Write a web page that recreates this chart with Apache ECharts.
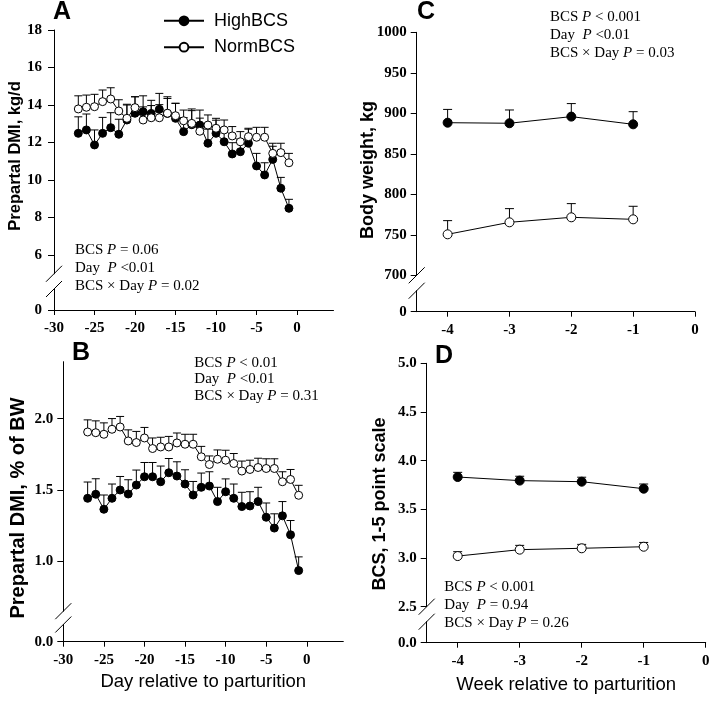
<!DOCTYPE html>
<html><head><meta charset="utf-8">
<script src="https://cdn.jsdelivr.net/npm/echarts@6/dist/echarts.min.js"></script>
<style>html,body{margin:0;padding:0;background:#fff}#c{width:709px;height:702px}</style>
</head><body><div id="c"></div>
<script>
// ---------- data ----------
const days = [-27,-26,-25,-24,-23,-22,-21,-20,-19,-18,-17,-16,-15,-14,-13,-12,-11,-10,-9,-8,-7,-6,-5,-4,-3,-2,-1];
const weeks = [-4,-3,-2,-1];
const dayTicks = [-30,-25,-20,-15,-10,-5,0];
const weekTicks = [-4,-3,-2,-1,0];
const aYTicks = [6,8,10,12,14,16,18];
const bYTicks = [1.0,1.5,2.0];
const cYTicks = [700,750,800,850,900,950,1000];
const dYTicks = [2.5,3.0,3.5,4.0,4.5,5.0];

const aHigh = [12.49,12.67,11.87,12.49,12.79,12.44,13.2,13.56,13.64,13.55,13.77,13.55,13.29,12.58,12.95,12.93,11.96,12.49,12.04,11.39,11.51,11.96,10.75,10.27,11.1,9.56,8.49];
const aHighSE = [0.88,0.85,0.8,0.85,0.8,0.8,0.8,0.88,0.85,0.7,0.85,0.8,0.8,0.75,0.75,0.8,0.75,0.7,0.75,0.6,0.6,0.75,0.67,0.65,0.7,0.58,0.48];
const aNorm = [13.79,13.88,13.91,14.18,14.32,13.68,13.29,13.86,13.2,13.32,13.32,13.56,13.43,13.16,13.02,12.6,12.93,12.76,12.67,12.35,12.04,12.31,12.28,12.28,11.42,11.46,10.92];
const aNormSE = [0.7,0.65,0.66,0.62,0.6,0.6,0.75,0.58,0.7,0.65,0.7,0.88,0.66,0.57,0.77,0.7,0.54,0.53,0.53,0.5,0.54,0.45,0.53,0.53,0.54,0.5,0.5];

const bHigh = [1.442,1.470,1.365,1.442,1.5,1.472,1.535,1.593,1.593,1.558,1.621,1.598,1.542,1.465,1.519,1.528,1.419,1.488,1.442,1.384,1.388,1.419,1.309,1.233,1.319,1.186,0.935];
const bHighSE = [0.114,0.109,0.10,0.10,0.095,0.10,0.105,0.10,0.10,0.11,0.10,0.10,0.10,0.095,0.10,0.10,0.10,0.09,0.10,0.10,0.10,0.10,0.10,0.10,0.10,0.10,0.096];
const bNorm = [1.907,1.902,1.891,1.926,1.942,1.844,1.833,1.865,1.791,1.802,1.802,1.830,1.821,1.821,1.733,1.679,1.716,1.709,1.686,1.633,1.644,1.658,1.651,1.651,1.558,1.574,1.463];
const bNormSE = [0.085,0.083,0.08,0.075,0.074,0.078,0.078,0.074,0.074,0.068,0.074,0.07,0.07,0.07,0.073,0.06,0.065,0.07,0.07,0.07,0.065,0.065,0.068,0.068,0.07,0.07,0.07];

const cHigh = [888.4,887.7,895.9,886.4];
const cHighSE = [16.4,16.4,16.1,15.6];
const cNorm = [750.6,765.4,771.6,769.1];
const cNormSE = [16.9,16.9,16.9,16.1];

const dHigh = [3.832,3.795,3.784,3.712];
const dHighSE = [0.048,0.045,0.046,0.048];
const dNorm = [3.02,3.086,3.10,3.116];
const dNormSE = [0.045,0.044,0.04,0.044];

// ---------- layout ----------
const SERIF = '"Liberation Serif", "Times New Roman", serif';
const SANS = '"Liberation Sans", Arial, sans-serif';

const panels = [
  {left:54, width:279.5, upTop:30, upBottom:273.75, lowTop:289, lowBottom:310,
   xMin:-30, xMax:4.5, xTicks:dayTicks, yMin:5, yMax:18, yTicks:aYTicks, fmt:v=>String(v), zero:'0',
   margin:12, xName:'', nameGap:0, sym:8, cap:8, xs:days,
   high:aHigh, highSE:aHighSE, norm:aNorm, normSE:aNormSE},
  {left:63.3, width:280, upTop:361.7, upBottom:611.2, lowTop:624.5, lowBottom:641.7,
   xMin:-30, xMax:4.5, xTicks:dayTicks, yMin:0.65, yMax:2.4, yTicks:bYTicks, fmt:v=>v.toFixed(1), zero:'0.0',
   margin:10, xName:'Day relative to parturition', nameGap:31, sym:8, cap:8, xs:days,
   high:bHigh, highSE:bHighSE, norm:bNorm, normSE:bNormSE},
  {left:416.7, width:278.3, upTop:32.3, upBottom:275.3, lowTop:290.7, lowBottom:311.7,
   xMin:-4.5, xMax:0, xTicks:weekTicks, yMin:700, yMax:1000, yTicks:cYTicks, fmt:v=>String(v), zero:'0',
   margin:10, xName:'', nameGap:0, sym:9, cap:9, xs:weeks,
   high:cHigh, highSE:cHighSE, norm:cNorm, normSE:cNormSE},
  {left:426.7, width:279, upTop:363.3, upBottom:606.7, lowTop:621.7, lowBottom:642.7,
   xMin:-4.5, xMax:0, xTicks:weekTicks, yMin:2.5, yMax:5.0, yTicks:dYTicks, fmt:v=>v.toFixed(1), zero:'0.0',
   margin:10, xName:'Week relative to parturition', nameGap:33, sym:9, cap:9, xs:weeks,
   high:dHigh, highSE:dHighSE, norm:dNorm, normSE:dNormSE}
];

const grid = [], xAxis = [], yAxis = [], series = [];
const axisLine = {show:true, onZero:false, lineStyle:{color:'#000', width:1}};
const labelStyle = {color:'#000', fontFamily:SERIF, fontWeight:'bold', fontSize:15};

function errSeries(idx, xs, ys, ses, capW, id) {
  return {
    type:'custom', id:id, xAxisIndex:idx, yAxisIndex:idx, silent:true, z:1,
    data: xs.map((x,i)=>[x, ys[i], ys[i]+ses[i]]),
    renderItem:(params, api) => {
      const p0 = api.coord([api.value(0), api.value(1)]);
      const p1 = api.coord([api.value(0), api.value(2)]);
      const st = {stroke:'#000', lineWidth:1};
      return {type:'group', children:[
        {type:'line', shape:{x1:p0[0], y1:p0[1], x2:p1[0], y2:p1[1]}, style:st},
        {type:'line', shape:{x1:p1[0]-capW/2, y1:p1[1], x2:p1[0]+capW/2, y2:p1[1]}, style:st}
      ]};
    }
  };
}

panels.forEach((p, k) => {
  const up = 2*k, low = 2*k+1;
  grid.push({left:p.left, top:p.upTop, width:p.width, height:p.upBottom-p.upTop, outerBoundsMode:'none'});
  grid.push({left:p.left, top:p.lowTop, width:p.width, height:p.lowBottom-p.lowTop, outerBoundsMode:'none'});
  xAxis.push({type:'value', gridIndex:up, min:p.xMin, max:p.xMax, show:false, splitLine:{show:false}});
  xAxis.push({type:'value', gridIndex:low, min:p.xMin, max:p.xMax, splitLine:{show:false},
    axisLine:axisLine,
    axisTick:{show:true, inside:false, length:5, customValues:p.xTicks, lineStyle:{color:'#000'}},
    axisLabel:Object.assign({margin:11, customValues:p.xTicks, formatter:v=>String(v)}, labelStyle),
    name:p.xName, nameLocation:'middle', nameGap:p.nameGap,
    nameTextStyle:{color:'#000', fontFamily:SANS, fontSize:18.5}
  });
  yAxis.push({type:'value', gridIndex:up, min:p.yMin, max:p.yMax, splitLine:{show:false},
    axisLine:axisLine,
    axisTick:{show:true, inside:false, length:6, customValues:p.yTicks, lineStyle:{color:'#000'}},
    axisLabel:Object.assign({margin:p.margin, customValues:p.yTicks, formatter:p.fmt}, labelStyle)
  });
  yAxis.push({type:'value', gridIndex:low, min:0, max:1, splitLine:{show:false},
    axisLine:axisLine,
    axisTick:{show:true, inside:false, length:6, customValues:[0], lineStyle:{color:'#000'}},
    axisLabel:Object.assign({margin:p.margin, customValues:[0], formatter:()=>p.zero}, labelStyle)
  });
  series.push({type:'line', name:'HighBCS', xAxisIndex:up, yAxisIndex:up, z:2,
    data:p.xs.map((x,i)=>[x, p.high[i]]), symbol:'circle', symbolSize:p.sym, showSymbol:true,
    lineStyle:{color:'#000', width:1}, itemStyle:{color:'#000', borderColor:'#000', borderWidth:1}});
  series.push({type:'line', name:'NormBCS', xAxisIndex:up, yAxisIndex:up, z:3,
    data:p.xs.map((x,i)=>[x, p.norm[i]]), symbol:'circle', symbolSize:p.sym, showSymbol:true,
    lineStyle:{color:'#000', width:1}, itemStyle:{color:'#fff', borderColor:'#000', borderWidth:1}});
  series.push(errSeries(up, p.xs, p.high, p.highSE, p.cap, 'errH' + k));
  series.push(errSeries(up, p.xs, p.norm, p.normSE, p.cap, 'errN' + k));
});

const chart = echarts.init(document.getElementById('c'), null, {renderer:'canvas'});
chart.setOption({
  animation:false,
  backgroundColor:'#fff',
  grid, xAxis, yAxis, series,
  legend:{
    data:['HighBCS','NormBCS'], orient:'vertical', left:163, top:11.8, padding:0,
    itemWidth:40, itemHeight:11, itemGap:8.4, selectedMode:false,
    textStyle:{color:'#000', fontFamily:SANS, fontSize:18, lineHeight:11, padding:[0,0,0,5]}
  }
});

// ---------- annotations ----------
const graphics = [];
function txt(x, y, text, font) {
  graphics.push({type:'text', x:x, y:y, silent:true,
    style:{text:text, font:font, fill:'#000', textAlign:'left', textVerticalAlign:'middle', align:'left', verticalAlign:'middle'}});
}
txt(53, 12, 'A', 'bold 25px ' + SANS);
txt(72, 353, 'B', 'bold 25px ' + SANS);
txt(417, 12, 'C', 'bold 25px ' + SANS);
txt(435, 356, 'D', 'bold 25px ' + SANS);

function ylab(x, y, text, size) {
  graphics.push({type:'text', x:x, y:y, rotation:Math.PI/2, silent:true,
    style:{text:text, font:'bold ' + size + 'px ' + SANS, fill:'#000',
      textAlign:'center', textVerticalAlign:'middle', align:'center', verticalAlign:'middle'}});
}
ylab(15, 156, 'Prepartal DMI, kg/d', 16.5);
ylab(18.3, 508, 'Prepartal DMI, % of BW', 20);
ylab(367.7, 170, 'Body weight, kg', 18);
ylab(380, 504, 'BCS, 1-5 point scale', 18);

function stats(x, top, lh, l1, l2, l3) {
  const n = {fontFamily:SERIF, fontSize:15, lineHeight:lh, fill:'#000', color:'#000'};
  const it = {fontFamily:SERIF, fontSize:15, fontStyle:'italic', lineHeight:lh, fill:'#000', color:'#000'};
  const line = a => '{n|' + a[0] + '}{i|P}{n|' + a[1] + '}';
  graphics.push({type:'text', x:x, y:top, silent:true,
    style:{text:[line(l1), line(l2), line(l3)].join('\n'), rich:{n:n, i:it},
      font:'15px ' + SERIF, fill:'#000', textAlign:'left', textVerticalAlign:'top', align:'left', verticalAlign:'top', lineHeight:lh}});
}
stats(75, 241.5, 18, ['BCS ', ' = 0.06'], ['Day  ', ' <0.01'], ['BCS \u00d7 Day ', ' = 0.02']);
stats(194.3, 354.5, 16.5, ['BCS ', ' < 0.01'], ['Day  ', ' <0.01'], ['BCS \u00d7 Day ', ' = 0.31']);
stats(550, 8.3, 18, ['BCS ', ' < 0.001'], ['Day  ', ' <0.01'], ['BCS \u00d7 Day ', ' = 0.03']);
stats(444.3, 577.7, 18, ['BCS ', ' < 0.001'], ['Day  ', ' = 0.94'], ['BCS \u00d7 Day ', ' = 0.26']);

// axis-break slashes, placed from the axes' own scales
panels.forEach((p, k) => {
  const a = chart.convertToPixel({xAxisIndex:2*k, yAxisIndex:2*k}, [p.xMin, p.yMin]);
  const b = chart.convertToPixel({xAxisIndex:2*k+1, yAxisIndex:2*k+1}, [p.xMin, 1]);
  [a, b].forEach(pt => {
    graphics.push({type:'line', silent:true, z:10,
      shape:{x1:pt[0]-8, y1:pt[1]+8, x2:pt[0]+8, y2:pt[1]-8}, style:{stroke:'#000', lineWidth:1}});
  });
});

chart.setOption({graphic:graphics});
</script>
</body></html>
